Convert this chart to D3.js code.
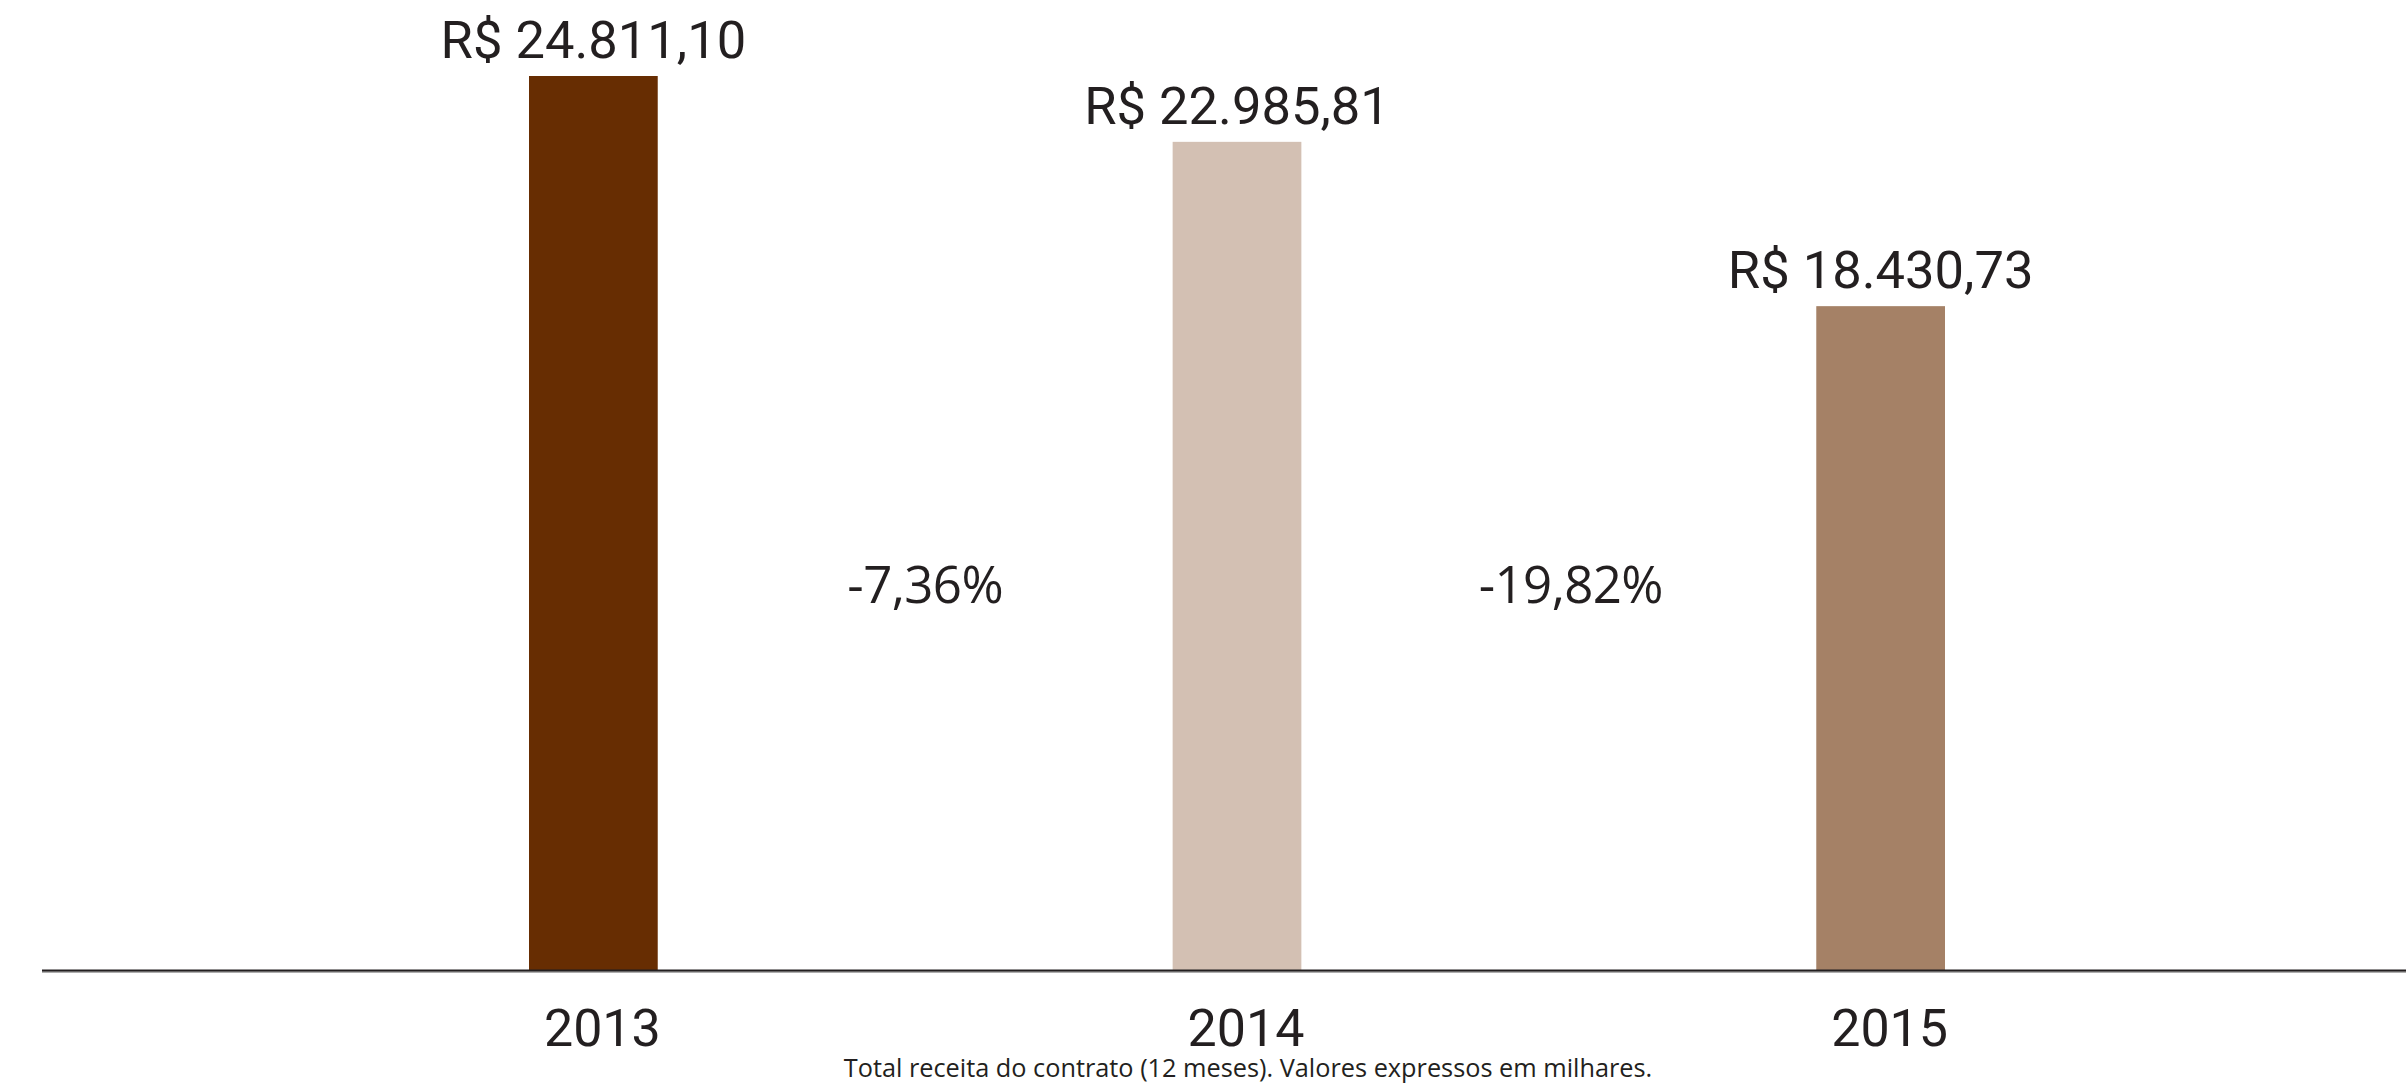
<!DOCTYPE html>
<html><head><meta charset="utf-8">
<script src="https://cdn.jsdelivr.net/npm/d3@7"></script>
<style>
html,body{margin:0;padding:0;background:#fff;}
svg{display:block;}
</style></head>
<body>
<svg id="chart" width="2406" height="1086"></svg>
<script>
const years = ["2013", "2014", "2015"];
const values = [24811.10, 22985.81, 18430.73];
const valueLabels = ["R$ 24.811,10", "R$ 22.985,81", "R$ 18.430,73"];
const changeLabels = ["-7,36%", "-19,82%"];
const colors = ["#672d02", "#d3c0b3", "#a58166"];
const note = "Total receita do contrato (12 meses). Valores expressos em milhares.";

const svg = d3.select("#chart");
const textColor = "#231f20";
const baseY = 971;
const x = d3.scaleBand().domain(years).range([529, 1945]).paddingInner(0.8).paddingOuter(0);
const y = d3.scaleLinear().domain([0, 24811.10]).range([baseY, 76]);

const mainFont = "Roboto, 'Noto Sans', sans-serif";
const humFont = "'Open Sans', 'Noto Sans', sans-serif";

svg.selectAll("rect.bar").data(values).join("rect")
  .attr("class", "bar")
  .attr("x", (d, i) => x(years[i]))
  .attr("y", d => y(d))
  .attr("width", x.bandwidth())
  .attr("height", d => baseY - y(d))
  .attr("fill", (d, i) => colors[i]);

// axis line
svg.append("line").attr("x1", 42).attr("x2", 2406).attr("y1", 970.6).attr("y2", 970.6)
  .attr("stroke", textColor).attr("stroke-width", 2.4);
svg.append("line").attr("x1", 42).attr("x2", 2406).attr("y1", 972.2).attr("y2", 972.2)
  .attr("stroke", "#8a8a8a").attr("stroke-width", 1);

// value labels
svg.selectAll("text.val").data(values).join("text")
  .attr("class", "val")
  .attr("x", (d, i) => x(years[i]) + x.bandwidth() / 2)
  .attr("y", d => y(d) - 18)
  .attr("text-anchor", "middle")
  .attr("font-family", mainFont)
  .attr("font-size", 52.5)
  .attr("fill", textColor)
  .text((d, i) => valueLabels[i]);

// year labels
svg.selectAll("text.year").data(years).join("text")
  .attr("class", "year")
  .attr("x", d => x(d) + x.bandwidth() / 2 + 9)
  .attr("y", 1046)
  .attr("text-anchor", "middle")
  .attr("font-family", mainFont)
  .attr("font-size", 52)
  .attr("fill", textColor)
  .text(d => d);

// change labels
svg.selectAll("text.chg").data(changeLabels).join("text")
  .attr("class", "chg")
  .attr("x", (d, i) => (x(years[i]) + x(years[i + 1])) / 2 + x.bandwidth() / 2 + (i === 0 ? 10 : 12))
  .attr("y", 603)
  .attr("text-anchor", "middle")
  .attr("font-family", humFont)
  .attr("font-size", 51)
  .attr("letter-spacing", -0.6)
  .attr("fill", textColor)
  .text(d => d);

// note
svg.append("text")
  .attr("x", 1248).attr("y", 1077)
  .attr("text-anchor", "middle")
  .attr("font-family", humFont)
  .attr("font-size", 25.3)
  .attr("fill", textColor)
  .text(note);
</script>
</body></html>
